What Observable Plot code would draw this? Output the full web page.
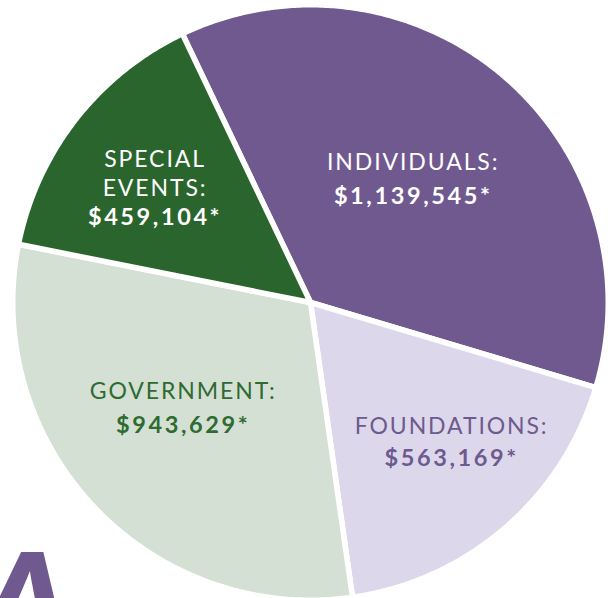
<!DOCTYPE html>
<html><head><meta charset="utf-8">
<script src="https://cdn.jsdelivr.net/npm/d3@7"></script>
<script src="https://cdn.jsdelivr.net/npm/@observablehq/plot@0.6"></script>
<style>
html,body{margin:0;padding:0;background:#fff;overflow:hidden}
#chart svg{display:block}
g[font-weight="400"] text{letter-spacing:1.9px}
g[font-weight="700"] text{letter-spacing:2.6px}
</style></head><body><div id="chart"></div>
<script>
// ---- data ----
const categories = ["INDIVIDUALS:", "FOUNDATIONS:", "GOVERNMENT:", "SPECIAL\nEVENTS:"];
const amounts = [1139545, 563169, 943629, 459104];
const sliceColors = ["#6f598f", "#ddd7ec", "#d5e0d4", "#29652d"];
const labelColors = ["#ffffff", "#6d5a8e", "#2e6b31", "#ffffff"];

// ---- layout ----
const W = 610, H = 598;
const CX = 310, CY = 302, R = 297.75;         // pixel geometry of the pie frame
const startAngle = -25.5 * Math.PI / 180;
const labelRadiusPx = [174.9, 173.3, 140.9, 172.9];
const labelShiftPx = [-11, 28, -25, -19];
const amountGapPx = [34, 32, 34, 29];

const total = d3.sum(amounts);
let cum = 0;
const slices = categories.map((c, i) => {
  const a0 = startAngle + 2 * Math.PI * cum / total;
  cum += amounts[i];
  const a1 = startAngle + 2 * Math.PI * cum / total;
  return {cat: c, value: amounts[i], a0, a1, mid: (a0 + a1) / 2, i};
});

// polygon outline of each slice in unit (data) coordinates
const outline = [];
for (const s of slices) {
  outline.push({cat: s.cat, x: 0, y: 0});
  const n = Math.max(2, Math.ceil((s.a1 - s.a0) / (Math.PI / 360)));
  for (let k = 0; k <= n; k++) {
    const a = s.a0 + (s.a1 - s.a0) * k / n;
    outline.push({cat: s.cat, x: Math.sin(a), y: Math.cos(a)});
  }
  outline.push({cat: s.cat, x: 0, y: 0});
}

const fmt = d3.format("$,");
const labels = slices.map(s => {
  const r = labelRadiusPx[s.i] / R;
  const x = r * Math.sin(s.mid) + labelShiftPx[s.i] / R;
  const y = r * Math.cos(s.mid);
  return {
    cat: s.cat, x, y,
    y2: y - amountGapPx[s.i] / R,
    amount: fmt(s.value) + "*",
    color: labelColors[s.i]
  };
});

const plot = Plot.plot({
  width: W, height: H,
  margin: 0,
  x: {domain: [-1, 1], range: [CX - R, CX + R], axis: null},
  y: {domain: [-1, 1], range: [CY + R, CY - R], axis: null},
  color: {domain: categories, range: sliceColors},
  style: {background: "white", overflow: "hidden"},
  marks: [
    Plot.line(outline, {x: "x", y: "y", z: "cat", fill: "cat", stroke: "white",
      strokeWidth: 5.5, strokeLinejoin: "round", curve: "linear"}),
    Plot.text(labels, {x: "x", y: "y", text: "cat", fill: d => d.color,
      lineAnchor: "bottom", lineHeight: 1.26, fontSize: 23, fontWeight: 400,
      fontFamily: "Lato, 'Noto Sans', sans-serif"}),
    Plot.text(labels, {x: "x", y: "y2", text: "amount", fill: d => d.color,
      lineAnchor: "bottom", fontSize: 23.5, fontWeight: 700,
      fontFamily: "Lato, 'Noto Sans', sans-serif"}),
    Plot.text(["A"], {frameAnchor: "bottom-left", text: d => d, textAnchor: "middle",
      lineAnchor: "bottom", dx: 24, dy: 62, fontSize: 150, fontWeight: 900,
      fontStyle: "italic", fill: "#6f598f", fontFamily: "Lato, 'DejaVu Sans', sans-serif"})
  ]
});
document.getElementById("chart").appendChild(plot);
</script>
</body></html>
